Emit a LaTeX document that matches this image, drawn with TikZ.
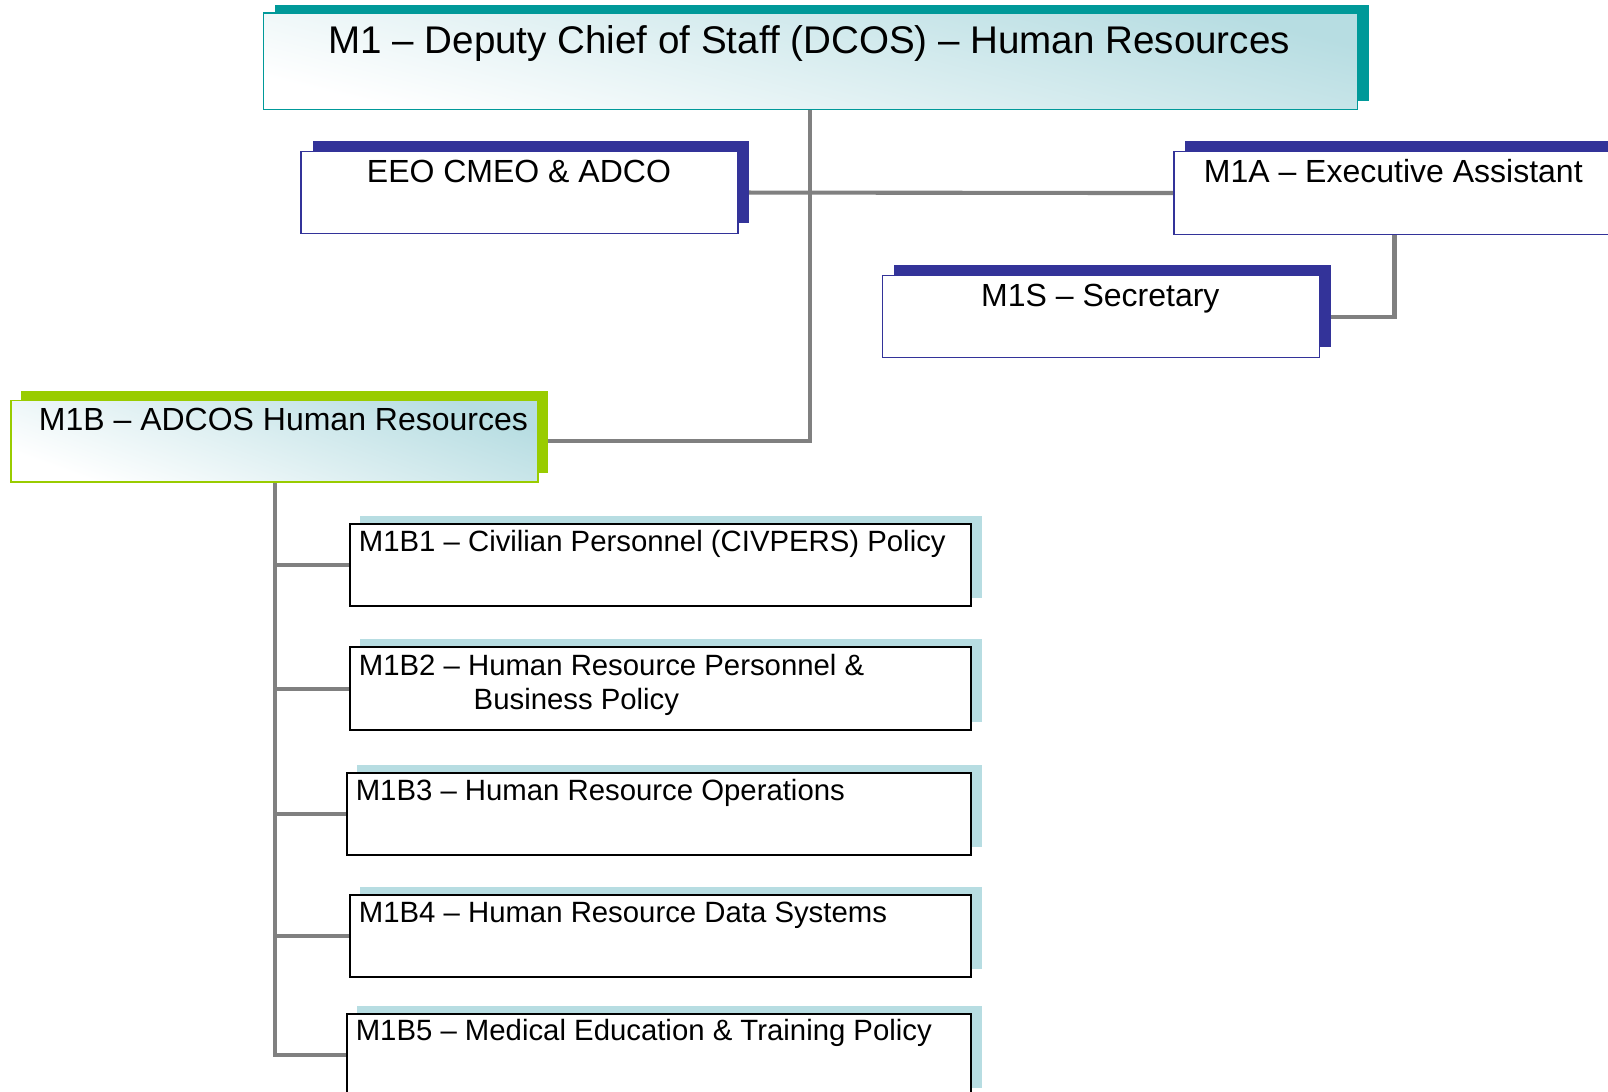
\documentclass[tikz,border=0pt]{standalone}
\usepackage{fontspec}
\setmainfont{Liberation Sans}
\usepackage{tikz}
\usetikzlibrary{backgrounds}

\definecolor{tealc}{RGB}{0,153,153}
\definecolor{navyc}{RGB}{51,51,153}
\definecolor{limec}{RGB}{153,204,0}
\definecolor{paleblue}{RGB}{183,221,226}
\definecolor{linkgray}{RGB}{128,128,128}

\newcommand{\topsize}{\fontsize{37.6}{45}\selectfont}
\newcommand{\midsize}{\fontsize{31.2}{37}\selectfont}
\newcommand{\lowsize}{\fontsize{28.6}{33}\selectfont}

\tikzset{
  box/.style={inner sep=0pt, anchor=north west},
  shadowed/.style 2 args={preaction={fill=#1, transform canvas={shift={#2}}}},
  glow/.style={top color=paleblue, bottom color=white, shading angle=#1},
  headbox/.style={box, draw=tealc, line width=1.5pt, glow=-14, shadowed={tealc}{(11pt,8pt)}},
  staffbox/.style={box, draw=navyc, line width=1.5pt, fill=white, shadowed={navyc}{(11pt,10pt)}},
  deputybox/.style={box, draw=limec, line width=1.5pt, glow=-20, shadowed={limec}{(10pt,9pt)}},
  branchbox/.style={box, draw=black, line width=2pt, fill=white, shadowed={paleblue}{(10.5pt,8pt)}},
  link/.style={draw=linkgray, line width=4pt},
}

\begin{document}
\begin{tikzpicture}[x=1pt,y=1pt,yscale=-1,xscale=1]
\useasboundingbox (0,0) rectangle (1568,1064);
\clip (0,0) rectangle (1568,1064);

%Shape: Rectangle
\node [headbox, minimum width=1067pt, minimum height=94pt] (m1) at (256,12) {};
%Shape: Rectangle
\node [staffbox, minimum width=426pt, minimum height=80pt] (eeo) at (293,147) {};
%Shape: Rectangle
\node [staffbox, minimum width=430pt, minimum height=81pt] (m1a) at (1144,147) {};
%Shape: Rectangle
\node [staffbox, minimum width=426pt, minimum height=80pt] (m1s) at (860,268) {};
%Shape: Rectangle
\node [deputybox, minimum width=514pt, minimum height=79pt] (m1b) at (10,390) {};

%Shape: Rectangle
\node [branchbox, minimum width=606pt, minimum height=80pt] (m1b1) at (340,510) {};
\node [branchbox, minimum width=606pt, minimum height=81pt] (m1b2) at (340,630) {};
\node [branchbox, minimum width=609pt, minimum height=80pt] (m1b3) at (337,753) {};
\node [branchbox, minimum width=606pt, minimum height=80pt] (m1b4) at (340,872) {};
\node [branchbox, minimum width=609pt, minimum height=80pt] (m1b5) at (337,988) {};

%Straight Lines
\begin{scope}[on background layer]
\draw [link] (m1.south) |- (m1b.east);
\draw [link] (eeo.east) -- (m1a.west);
\draw [link] (m1a.south) |- (m1s.east);
\draw [link] (m1b.south) |- (m1b5.west);
\foreach \b in {m1b1,m1b2,m1b3,m1b4}
  \draw [link] (m1b.south |- \b.west) -- (\b.west);
\end{scope}

% Text Node
\draw (789,52) node [anchor=base][inner sep=0.75pt] (m1t) {\topsize M1 -- Deputy Chief of Staff (DCOS) -- Human Resources};
% Text Node
\draw (506,178) node [anchor=base][inner sep=0.75pt] (eeot) {\midsize EEO CMEO \& ADCO};
% Text Node
\draw (1173,178) node [anchor=base west][inner sep=0.75pt] (m1at) {\midsize M1A -- Executive Assistant};
% Text Node
\draw (1073,299) node [anchor=base][inner sep=0.75pt] (m1st) {\midsize M1S -- Secretary};
% Text Node
\draw (37,420) node [anchor=base west][inner sep=0.75pt] (m1bt) {\midsize M1B -- ADCOS Human Resources};

% Text Node
\draw (349,538) node [anchor=base west][inner sep=0.75pt] (m1b1t) {\lowsize M1B1 -- Civilian Personnel (CIVPERS) Policy};
% Text Node
\draw (349,692) node [anchor=base west][inner sep=0.75pt] (m1b2t) [align=left, font=\lowsize] {M1B2 -- Human Resource Personnel \&\\\hspace*{112pt}Business Policy};
% Text Node
\draw (346,781) node [anchor=base west][inner sep=0.75pt] (m1b3t) {\lowsize M1B3 -- Human Resource Operations};
% Text Node
\draw (349,900) node [anchor=base west][inner sep=0.75pt] (m1b4t) {\lowsize M1B4 -- Human Resource Data Systems};
% Text Node
\draw (346,1015) node [anchor=base west][inner sep=0.75pt] (m1b5t) {\lowsize M1B5 -- Medical Education \& Training Policy};

\end{tikzpicture}
\end{document}
